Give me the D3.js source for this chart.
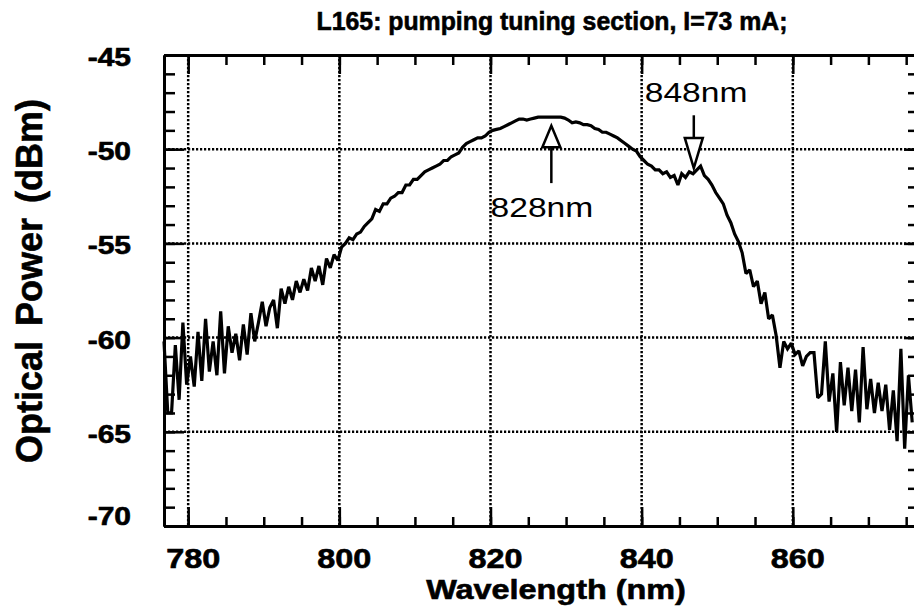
<!DOCTYPE html>
<html><head><meta charset="utf-8">
<script src="https://cdn.jsdelivr.net/npm/d3@7"></script>
<style>
body{margin:0;background:#fff}
svg{display:block}
text{font-family:"Liberation Sans",Arial,Helvetica,sans-serif;fill:#000}
text.heavy{stroke:#000;stroke-width:0.6px}
</style>
</head><body>
<svg id="c" width="914" height="606"></svg>
<script>
// ---------- data ----------
const titleText = "L165: pumping tuning section, I=73 mA;";
const xLabelText = "Wavelength (nm)";
const yLabelText = "Optical Power (dBm)";
const xMajorTicks = [780, 800, 820, 840, 860];
const xMinorTicks = [780, 785, 790, 795, 800, 805, 810, 815, 820, 825, 830, 835, 840, 845, 850, 855, 860, 865, 870, 875];
const yMajorTicks = [-45, -50, -55, -60, -65, -70];
const yMinorTicks = [-70,-69,-68,-67,-66,-65,-64,-63,-62,-61,-60,-59,-58,-57,-56,-55,-54,-53,-52,-51,-50,-49,-48,-47,-46,-45];
const xGridLines = [780, 800, 820, 840, 860];
const yGridLines = [-50, -55, -60, -65];
const wavelengthStart = 776.8;   // nm, first sample
const wavelengthStep = 0.5;      // nm between samples
const power = [
 -60.2,-64.0,-64.0,-60.4,-63.3,-59.2,-62.5,-61.0,-62.6,-59.7,
 -62.3,-59.0,-61.8,-60.2,-62.0,-58.6,-61.9,-59.4,-60.8,-59.8,
 -61.2,-59.3,-60.9,-58.7,-60.2,-59.2,-58.1,-59.4,-58.4,-58.0,
 -59.5,-57.4,-58.2,-57.3,-58.0,-57.0,-57.6,-56.9,-57.5,-56.3,
 -57.0,-56.2,-57.2,-55.8,-56.3,-55.6,-55.9,-55.2,-55.0,-54.7,
 -54.8,-54.5,-54.4,-54.1,-53.9,-53.7,-53.2,-53.3,-52.9,-52.9,
 -52.6,-52.5,-52.3,-52.3,-51.9,-51.9,-51.6,-51.6,-51.4,-51.2,
 -51.1,-51.0,-50.9,-50.8,-50.6,-50.6,-50.4,-50.3,-50.2,-49.9,
 -49.7,-49.6,-49.5,-49.4,-49.4,-49.3,-49.1,-49.0,-48.95,-48.9,
 -48.8,-48.7,-48.6,-48.5,-48.4,-48.4,-48.45,-48.4,-48.35,-48.3,
 -48.3,-48.3,-48.3,-48.3,-48.3,-48.3,-48.35,-48.45,-48.6,-48.55,
 -48.6,-48.7,-48.7,-48.75,-48.9,-48.95,-49.1,-49.1,-49.2,-49.3,
 -49.4,-49.55,-49.7,-49.85,-50.0,-50.1,-50.4,-50.6,-50.8,-50.9,
 -51.1,-51.1,-51.3,-51.2,-51.5,-51.4,-51.9,-51.3,-51.5,-51.2,
 -51.3,-51.1,-50.9,-51.4,-51.6,-51.9,-52.3,-52.6,-52.9,-53.5,
 -53.9,-54.5,-54.9,-55.5,-56.6,-56.4,-57.3,-57.0,-58.2,-57.6,
 -59.0,-58.8,-59.9,-61.6,-60.2,-60.6,-60.3,-60.9,-60.7,-61.5,
 -61.0,-60.8,-60.8,-63.2,-63.0,-60.2,-63.4,-61.9,-65.0,-61.3,
 -63.6,-61.6,-63.9,-61.7,-64.5,-60.5,-63.8,-62.2,-64.0,-62.4,
 -63.9,-62.5,-64.9,-62.8,-65.5,-60.6,-65.9,-62.0,-64.5
];
// annotations: arrow at wavelength, tip / base of head / end of stem (dBm), label position
const annLabels = ["828nm", "848nm"];
const annWavelength = [828.05, 846.9];
const annTip = [-48.75, -51.0];
const annHeadBase = [-49.9, -49.4];
const annTail = [-51.8, -48.2];
const annTextWl = [826.8, 847.2];
const annTextDb = [-53.6, -47.5];

// ---------- layout ----------
const svg = d3.select("#c");
const x = d3.scaleLinear().domain([776.8, 876.3]).range([164, 916]);
const y = d3.scaleLinear().domain([-70, -45]).range([526, 55]);
const series = power.map((v, i) => ({w: wavelengthStart + i * wavelengthStep, p: v}));

// grid
const grid = svg.append("g").attr("stroke", "#000").attr("stroke-width", 2.5)
  .attr("stroke-dasharray", "2.2,1.8").attr("fill", "none");
grid.selectAll("line.v").data(xGridLines).join("line").attr("class", "v")
  .attr("x1", d => x(d)).attr("x2", d => x(d)).attr("y1", y(-45)).attr("y2", y(-70));
grid.selectAll("line.h").data(yGridLines).join("line").attr("class", "h")
  .attr("x1", x.range()[0]).attr("x2", x.range()[1]).attr("y1", d => y(d)).attr("y2", d => y(d));

// axes (ticks pointing inward)
function styleAxis(g, w) {
  g.select(".domain").attr("stroke-width", 3).attr("stroke", "#000");
  g.selectAll(".tick line").attr("stroke-width", w).attr("stroke", "#000");
  g.selectAll(".tick text").remove();
}
svg.append("g").attr("transform", `translate(0,${y(-70)})`)
  .call(d3.axisTop(x).tickValues(xMinorTicks).tickSize(9).tickSizeOuter(0).tickFormat(""))
  .call(g => styleAxis(g, 2.5));
svg.append("g").attr("transform", `translate(0,${y(-70)})`)
  .call(d3.axisTop(x).tickValues(xMajorTicks).tickSize(19).tickSizeOuter(0).tickFormat(""))
  .call(g => styleAxis(g, 2.5));
svg.append("g").attr("transform", `translate(0,${y(-45)})`)
  .call(d3.axisBottom(x).tickValues(xMinorTicks).tickSize(10).tickSizeOuter(0).tickFormat(""))
  .call(g => styleAxis(g, 2.5));
svg.append("g").attr("transform", `translate(0,${y(-45)})`)
  .call(d3.axisBottom(x).tickValues(xMajorTicks).tickSize(19).tickSizeOuter(0).tickFormat(""))
  .call(g => styleAxis(g, 2.5));
svg.append("g").attr("transform", `translate(${x.range()[0]},0)`)
  .call(d3.axisRight(y).tickValues(yMinorTicks).tickSize(11).tickSizeOuter(0).tickFormat(""))
  .call(g => styleAxis(g, 2.5));
svg.append("g").attr("transform", `translate(${x.range()[0]},0)`)
  .call(d3.axisRight(y).tickValues(yMajorTicks).tickSize(20).tickSizeOuter(0).tickFormat(""))
  .call(g => styleAxis(g, 2.5));
svg.append("g").attr("transform", `translate(${x.range()[1]},0)`)
  .call(d3.axisLeft(y).tickValues(yMinorTicks).tickSize(8).tickSizeOuter(0).tickFormat(""))
  .call(g => styleAxis(g, 2.5));
svg.append("g").attr("transform", `translate(${x.range()[1]},0)`)
  .call(d3.axisLeft(y).tickValues(yMajorTicks).tickSize(12).tickSizeOuter(0).tickFormat(""))
  .call(g => styleAxis(g, 2.5));

// tick labels (wide bold)
svg.append("g").selectAll("g").data(xMajorTicks).join("g")
  .attr("transform", d => `translate(${x(d) + 5},568) scale(1.2,1)`)
  .append("text").attr("class", "heavy").attr("text-anchor", "middle").attr("font-size", 27).attr("font-weight", "bold")
  .text(d => d);
svg.append("g").selectAll("g").data(yMajorTicks).join("g")
  .attr("transform", d => `translate(131,${y(d) + (d === -70 ? -10 : 2) + 9}) scale(1.2,1)`)
  .append("text").attr("class", "heavy").attr("text-anchor", "end").attr("font-size", 25).attr("font-weight", "bold")
  .text(d => d);

// axis titles
svg.append("g").attr("transform", "translate(556,599) scale(1.2,1)")
  .append("text").attr("class", "heavy").attr("text-anchor", "middle").attr("font-size", 27).attr("font-weight", "bold")
  .text(xLabelText);
svg.append("text").attr("class", "heavy").attr("transform", "translate(42,281) rotate(-90)")
  .attr("text-anchor", "middle").attr("font-size", 36).attr("font-weight", "bold")
  .attr("word-spacing", 5)
  .text(yLabelText);
svg.append("g").attr("transform", "translate(552,30) scale(0.955,1)")
  .append("text").attr("class", "heavy").attr("text-anchor", "middle")
  .attr("font-size", 26).attr("font-weight", "bold").text(titleText);

// spectrum trace
svg.append("path").datum(series)
  .attr("fill", "none").attr("stroke", "#000").attr("stroke-width", 3.2)
  .attr("stroke-linejoin", "miter").attr("stroke-miterlimit", 2)
  .attr("d", d3.line().x(d => x(d.w)).y(d => y(d.p)));

// annotations
const ann = svg.append("g");
annLabels.forEach((lab, i) => {
  const ax = x(annWavelength[i]);
  const tipY = y(annTip[i]), baseY = y(annHeadBase[i]), tailY = y(annTail[i]);
  ann.append("path")
    .attr("d", `M${ax},${baseY}L${ax},${tailY}`)
    .attr("stroke", "#000").attr("stroke-width", 2.5).attr("fill", "none");
  ann.append("path")
    .attr("d", `M${ax},${tipY}L${ax - 9},${baseY}L${ax + 9},${baseY}Z`)
    .attr("stroke", "#000").attr("stroke-width", 2.5).attr("fill", "#fff");
  ann.append("g").attr("transform", `translate(${x(annTextWl[i])},${y(annTextDb[i])}) scale(1.2,1)`)
    .append("text").attr("text-anchor", "middle").attr("font-size", 28).text(lab);
});
</script>
</body></html>
